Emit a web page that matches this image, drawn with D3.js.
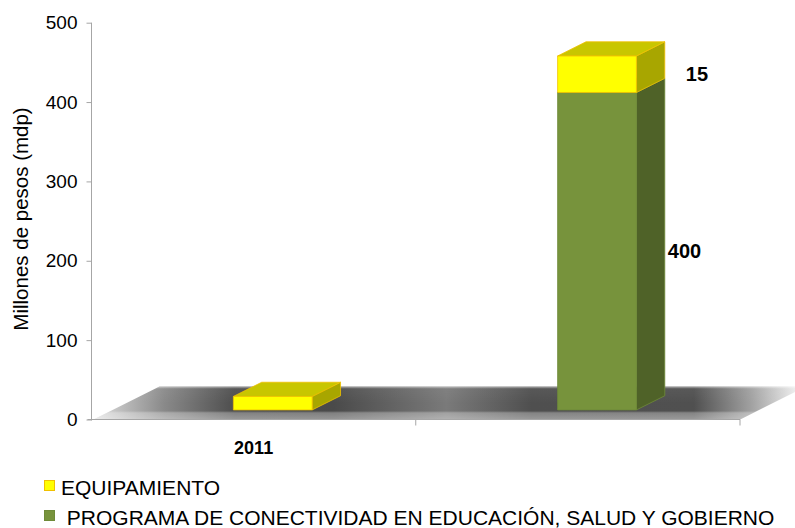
<!DOCTYPE html>
<html>
<head>
<meta charset="utf-8">
<script src="https://cdn.jsdelivr.net/npm/d3@7"></script>
<style>
    body { margin: 0; background: #fff; }
    #chart text { font-family: "Liberation Sans", Arial, sans-serif; fill: #000; }
</style>
</head>
<body>
<div id="chart"></div>
<script>
// Chart values
var categories = ["2011", ""];
var equipamiento = [17, 46];
var programa = [0, 400];
// The labels the picture shows next to each segment (first bar has none)
var equipamientoLabels = [null, "15"];
var programaLabels = [null, "400"];
var yTicks = [0, 100, 200, 300, 400, 500];
var seriesNames = ["EQUIPAMIENTO", " PROGRAMA DE CONECTIVIDAD EN EDUCACIÓN, SALUD Y GOBIERNO"];

var width = 795, height = 528;

var svg = d3.select("#chart").append("svg")
    .attr("width", width)
    .attr("height", height);

// Front plane of the plot, the depth is added with an oblique offset
var x = d3.scaleBand().domain(categories).range([91.5, 740]);
var y = d3.scaleLinear().domain([0, 500]).range([419.5, 22.7]);
var depthX = 66, depthY = -33;

function proj(px, v, d) {
    return [px + d * depthX, y(v) + d * depthY];
}

function poly(points) {
    return "M" + points.map(function(p) { return p[0] + "," + p[1]; }).join("L") + "Z";
}

// Gradients for the shadowy floor
var defs = svg.append("defs");
var floorGrad = defs.append("linearGradient")
    .attr("id", "floorGrad")
    .attr("gradientUnits", "userSpaceOnUse")
    .attr("x1", 93).attr("x2", 800).attr("y1", 0).attr("y2", 0);
[[0, "#e0e0e0"], [0.1, "#8a8a8a"], [0.2, "#4e4e4e"], [0.34, "#4a4a4a"], [0.5, "#7a7a7a"], [0.62, "#4f4f4f"],
 [0.85, "#505050"], [0.93, "#a0a0a0"], [1, "#f4f4f4"]].forEach(function(s) {
    floorGrad.append("stop").attr("offset", s[0]).attr("stop-color", s[1]);
});
var floorShade = defs.append("linearGradient")
    .attr("id", "floorShade")
    .attr("x1", 0).attr("x2", 0).attr("y1", 0).attr("y2", 1);
[[0, "#fff", 0.55], [0.07, "#fff", 0.05], [0.5, "#fff", 0], [0.74, "#fff", 0.0], [0.8, "#fff", 0.3], [1, "#fff", 0.42]].forEach(function(s) {
    floorShade.append("stop").attr("offset", s[0]).attr("stop-color", s[1]).attr("stop-opacity", s[2]);
});

// Floor
var x0 = x.range()[0], x1 = x.range()[1];
var floorPts = [proj(x0 + 2, 0, 0), proj(x1, 0, 0), proj(x1, 0, 1), proj(x0 + 2, 0, 1)];
svg.append("path").attr("d", poly(floorPts)).attr("fill", "url(#floorGrad)");
svg.append("path").attr("d", poly(floorPts)).attr("fill", "url(#floorShade)");

// Axes
var yAxis = d3.axisLeft(y).tickValues(yTicks).tickSize(5).tickPadding(9).tickFormat(d3.format("d"));
var gy = svg.append("g").attr("transform", "translate(" + x0 + ",0)").call(yAxis);
gy.select(".domain").attr("stroke", "#a6a6a6").attr("d", "M0," + y(500) + "V" + (y(0) + 1));
gy.selectAll(".tick line").attr("stroke", "#a6a6a6");
gy.selectAll(".tick text").style("font-size", "19px");

var xAxis = d3.axisBottom(x).tickSize(0).tickPadding(22);
var gx = svg.append("g").attr("transform", "translate(0," + y(0) + ")").call(xAxis);
gx.select(".domain").attr("stroke", "#a6a6a6").attr("d", "M" + (x0 - 4) + ",0H" + x1);
gx.selectAll(".tick text").style("font-size", "18px").style("font-weight", "bold");
// Tick marks between categories
gx.selectAll(".sep").data(categories).enter().append("line")
    .attr("x1", function(d) { return x(d) + x.step(); })
    .attr("x2", function(d) { return x(d) + x.step(); })
    .attr("y1", 0).attr("y2", 6)
    .attr("stroke", "#a6a6a6");

svg.append("text")
    .attr("transform", "translate(27.5," + 219 + ") rotate(-90)")
    .attr("text-anchor", "middle")
    .style("font-size", "20.5px")
    .text("Millones de pesos (mdp)");

// Bars: each segment is a box with front, side and top faces
var series = [
    { values: programa, labels: programaLabels, front: "#77933c", side: "#4f6228", top: "#647d33", stroke: "#6e8a38", labelDx: 3 },
    { values: equipamiento, labels: equipamientoLabels, front: "#ffff00", side: "#a8a600", top: "#c8c600", stroke: "#f0c000", labelDx: 21 }
];
var dFront = 0.29, dBack = 0.72;
var barW = x.bandwidth() * 0.243;

var bars = svg.append("g");
categories.forEach(function(cat, i) {
    var left = x(cat) + x.bandwidth() / 2 - barW / 2;
    var right = left + barW;
    var base = 0;
    series.forEach(function(s) {
        var v = s.values[i];
        if (!v) return;
        var lo = base, hi = base + v;
        var front = [proj(left, lo, dFront), proj(right, lo, dFront), proj(right, hi, dFront), proj(left, hi, dFront)];
        var side = [proj(right, lo, dFront), proj(right, lo, dBack), proj(right, hi, dBack), proj(right, hi, dFront)];
        var top = [proj(left, hi, dFront), proj(right, hi, dFront), proj(right, hi, dBack), proj(left, hi, dBack)];
        bars.append("path").attr("d", poly(side)).attr("fill", s.side).attr("stroke", s.stroke).attr("stroke-width", 0.8);
        bars.append("path").attr("d", poly(top)).attr("fill", s.top).attr("stroke", s.stroke).attr("stroke-width", 0.8);
        bars.append("path").attr("d", poly(front)).attr("fill", s.front).attr("stroke", s.stroke).attr("stroke-width", 0.8);
        if (s.labels[i]) {
            var mid = (y(lo) + y(hi)) / 2 + dFront * depthY;
            bars.append("text")
                .attr("x", proj(right, hi, dBack)[0] + s.labelDx)
                .attr("y", mid)
                .attr("dy", "0.36em")
                .style("font-size", "20px")
                .style("font-weight", "bold")
                .text(s.labels[i]);
        }
        base = hi;
    });
});

// Legend
var legendColors = [["#ffff00", "#f0c000"], ["#77933c", "#6e8a38"]];
var legend = svg.append("g");
seriesNames.forEach(function(name, i) {
    var ly = 480 + i * 30;
    legend.append("rect")
        .attr("x", 44.5).attr("y", ly + 0.5).attr("width", 10).attr("height", 10)
        .attr("fill", legendColors[i][0]).attr("stroke", legendColors[i][1]);
    legend.append("text")
        .attr("x", 61).attr("y", ly + 14.5)
        .style("font-size", "21px")
        .style("white-space", "pre")
        .text(name);
});
</script>
</body>
</html>
